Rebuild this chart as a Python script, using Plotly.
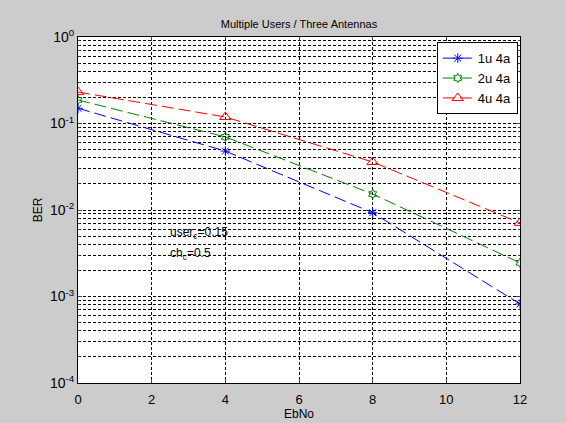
import plotly.graph_objects as go

ebno = [0, 4, 8, 12]
ber_1u = [0.15, 0.048, 0.0093, 0.00082]
ber_2u = [0.187, 0.070, 0.0153, 0.00245]
ber_4u = [0.231, 0.119, 0.0359, 0.0071]
series_names = ["1u 4a", "2u 4a", "4u 4a"]
y_tickvals = [1e-4, 1e-3, 1e-2, 1e-1, 1]
y_ticktext = ["10<sup>-4</sup>", "10<sup>-3</sup>", "10<sup>-2</sup>", "10<sup>-1</sup>", "10<sup>0</sup>"]
x_tickvals = [0, 2, 4, 6, 8, 10, 12]

fig = go.Figure()
styles = [("#0000ff", "asterisk-open", 8), ("#008000", "hexagram-open", 7), ("#ff0000", "triangle-up-open", 10)]
for name, ys, (col, sym, sz) in zip(series_names, [ber_1u, ber_2u, ber_4u], styles):
    fig.add_trace(go.Scatter(
        x=ebno, y=ys, name=name, mode="lines+markers",
        line=dict(color=col, width=1, dash="12px,5px"),
        marker=dict(symbol=sym, size=sz, color=col, line=dict(color=col, width=1)),
    ))

fig.add_annotation(x=2.45, y=-2.27, xref="x", yref="y", text="user<sub>c</sub>=0.15",
                   showarrow=False, xanchor="left", font=dict(size=12, color="black"))
fig.add_annotation(x=2.45, y=-2.51, xref="x", yref="y", text="ch<sub>c</sub>=0.5",
                   showarrow=False, xanchor="left", font=dict(size=12, color="black"))

grid = dict(gridcolor="black", gridwidth=1, griddash="3px,2px")
fig.update_layout(
    width=566, height=423,
    paper_bgcolor="#cccccc", plot_bgcolor="white",
    margin=dict(l=78, r=46, t=37, b=40, autoexpand=False),
    font=dict(family="Liberation Sans, Arial, sans-serif", size=12, color="black"),
    title=dict(text="Multiple Users / Three Antennas", x=0.5, xref="paper", y=1, yref="paper",
               yanchor="bottom", pad=dict(b=9), font=dict(size=11)),
    showlegend=True,
    legend=dict(x=0.995, y=0.985, xanchor="right", yanchor="top", bgcolor="white",
                bordercolor="black", borderwidth=1, font=dict(size=13), tracegroupgap=0),
    xaxis=dict(range=[0, 12], tickvals=x_tickvals, ticks="inside", ticklen=4,
               showline=True, linecolor="black", mirror="ticks", zeroline=False,
               showgrid=True, **grid, tickfont=dict(size=13), ticklabelstandoff=4,
               automargin=False,
               title=dict(text="EbNo", standoff=2, font=dict(size=12))),
    yaxis=dict(type="log", range=[-4, 0], tickvals=y_tickvals, ticktext=y_ticktext,
               ticks="inside", ticklen=4, showline=True, linecolor="black", mirror="ticks",
               zeroline=False, showgrid=True, **grid, automargin=False,
               minor=dict(dtick="D1", ticks="inside", ticklen=2, showgrid=True,
                          gridcolor="black", griddash="3px,2px", gridwidth=1),
               title=dict(text="BER", standoff=4, font=dict(size=12)), tickfont=dict(size=14)),
)

fig.write_html("out.html", config={"displayModeBar": False},
               post_script="document.body.style.margin='0';document.body.style.background='#cccccc';")
